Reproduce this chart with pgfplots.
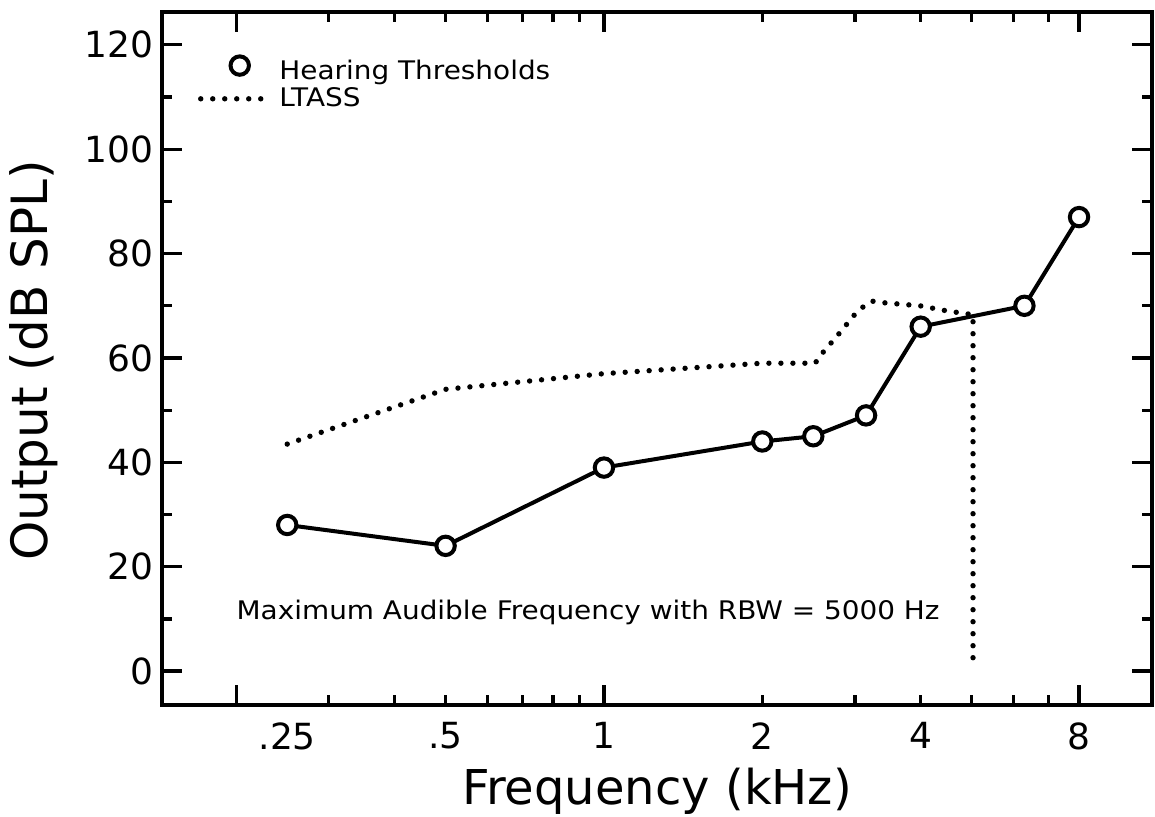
\documentclass[border=0pt]{standalone}
\usepackage{fontspec}
\setmainfont{DejaVu Sans}
\newfontfamily\smallfont[FakeStretch=1.09]{DejaVu Sans}
\usepackage{pgfplots}
\usepackage{pgfplotstable}
\pgfplotsset{compat=1.18}
\pgfplotsset{
  htleg/.style={legend image code/.code={\draw[##1] plot coordinates {(19.5pt,3pt)};}},
  ltleg/.style={legend image code/.code={\draw[##1] (0pt,0pt) -- (31pt,0pt);}},
}

\pgfplotstableread{
f y
0.25 28
0.5 24
1 39
2 44
2.5 45
3.15 49
4 66
6.3 70
8 87
}\hearing

\pgfplotstableread{
f y
0.25 43.5
0.5 54
1 57
2 59
2.52 59
2.61 61.1
2.80 64.7
2.99 68.2
3.11 69.8
3.23 70.9
3.39 70.6
3.99 70.0
4.5 69.0
5.03 68.3
5.03 2
}\ltass

\begin{document}
\begin{tikzpicture}
\useasboundingbox (-81pt,-55.5pt) rectangle (496.5pt,352.5pt);
\begin{axis}[
  at={(0pt,0pt)}, anchor=south west,
  scale only axis, width=495pt, height=346.5pt,
  xmode=log, log basis x=10,
  xmin=0.1445, xmax=11.01,
  ymin=-6.5, ymax=126.3,
  axis line style={line width=1.9pt},
  every tick/.style={line width=1.6pt, black},
  major tick length=10pt, minor tick length=5pt,
  tick align=inside, tick pos=both,
  xtick={0.2,1,8}, xticklabels={{},{},{}},
  minor xtick={0.3,0.4,0.5,0.6,0.7,0.8,0.9,2,3,4,5,6,7},
  extra x ticks={0.25,0.5,1,2,4,8},
  extra x tick labels={.25,.5,1,2,4,8},
  extra x tick style={major tick length=0pt},
  ytick={0,20,40,60,80,100,120},
  yticklabels={0,20,40,60,80,100,120},
  minor ytick={10,30,50,70,90,110},
  tick label style={font=\fontsize{18}{18}\selectfont},
  xticklabel style={inner sep=0pt, anchor=north, yshift=-8.5pt},
  yticklabel style={inner sep=0pt, anchor=east, xshift=-4pt},
  xlabel={Frequency (kHz)},
  ylabel={Output (dB SPL)},
  xlabel style={at={(axis description cs:0.5,-0.143)}, anchor=base, inner sep=0pt, font=\fontsize{24}{24}\selectfont},
  ylabel style={at={(axis description cs:-0.1293,0.497)}, anchor=center, inner sep=0pt, font=\fontsize{25}{25}\selectfont},
  legend cell align=left,
  legend style={draw=none, fill=none, at={(axis description cs:0.0364,0.936)}, anchor=north west,
    inner sep=0pt, outer sep=0pt, row sep=-1.5pt,
    font=\smallfont\fontsize{12.8}{14}\selectfont,
    /tikz/every odd column/.style={column sep=5pt}},
]
\addplot[black, line width=2pt, mark=*, mark size=4.6pt,
  mark options={fill=white, draw=black, line width=2pt, solid}, htleg]
  table[x=f, y=y] {\hearing};
\addlegendentry{Hearing Thresholds}
\addplot[black, line width=2.7pt, line cap=round, dash pattern=on 0pt off 6pt, ltleg]
  table[x=f, y=y] {\ltass};
\addlegendentry{LTASS}
\node[anchor=base west, inner sep=0pt, font=\smallfont\fontsize{12.8}{14}\selectfont]
  at (axis cs:0.2,9.9) {Maximum Audible Frequency with RBW = 5000 Hz};
\end{axis}
\end{tikzpicture}
\end{document}
